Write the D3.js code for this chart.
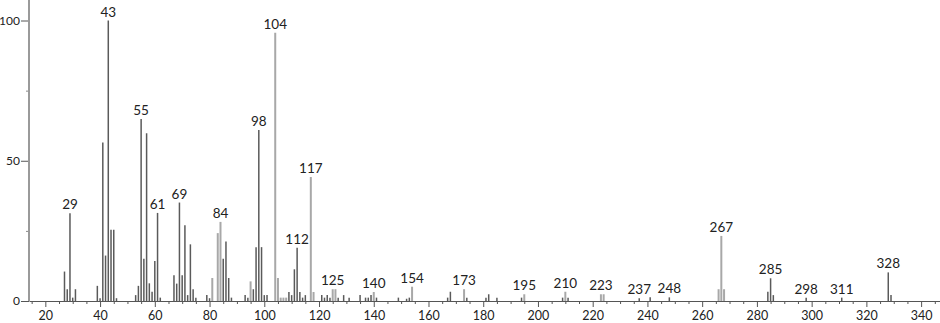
<!DOCTYPE html>
<html>
<head>
<meta charset="utf-8">
<script src="https://cdn.jsdelivr.net/npm/d3@7"></script>
<style>
  html, body { margin: 0; padding: 0; background: #fff; }
  svg { display: block; }
  text { font-family: "Century Gothic", "URW Gothic", Lato, "DejaVu Sans", sans-serif; fill: #222; }
</style>
</head>
<body>
<svg id="chart" width="940" height="323"></svg>
<script>
// m/z values of the peaks
const mz = [27,28,29,30,31,39,40,41,42,43,44,45,46,53,54,55,56,57,58,59,60,61,62,
  67,68,69,70,71,72,73,74,75,79,80,81,83,84,85,86,87,88,93,94,95,96,97,98,99,100,101,
  104,105,106,107,108,109,110,111,112,113,114,115,117,118,121,122,123,124,125,126,127,
  129,131,135,137,138,139,140,141,149,152,153,154,167,168,173,174,181,182,185,194,195,
  209,210,211,223,224,237,241,248,266,267,268,284,285,286,298,311,328,329];
// relative intensities (%)
const intensity = [10.5,4.2,31.3,1.2,4.2,5.4,1,56.5,16.2,100,25.4,25.4,1,2.1,5.4,64.9,15.1,59.8,6.3,3.3,14.3,31.4,1.2,
  9.2,6.2,35.1,9.2,27.0,2.1,20.2,4.2,1.2,2.1,1,8.2,24.2,28.2,15.1,21.2,8.2,1.2,2.1,1.2,7.0,4.2,19.2,61,19.2,2.1,2.1,
  95.6,8.2,1.2,1.2,1.2,3.2,2.1,11.3,19.0,3.2,1.2,2.1,44.2,3.2,2.1,1.2,2.1,1.2,4.2,4.2,1.2,
  2.1,1.2,2.1,1.2,1.2,2.1,3.2,1.2,1.2,0.8,1.2,5.1,1.2,3.3,4.2,1.2,1.2,2.4,1.2,1.2,2.4,
  1.2,3.3,1.2,2.4,2.4,1,1.3,1.3,4.2,23.2,4.2,3.3,8.1,2.1,1.2,1.2,10.2,2.1];
// peaks drawn in the lighter tone
const lightPeaks = [81,83,84,95,104,105,106,107,108,117,118,125,126,140,154,173,195,210,223,224,266,267,268];
// annotated peaks
const labelPeaks = [29,43,55,61,69,84,98,104,112,117,125,140,154,173,195,210,223,237,248,267,285,298,311,328];
// axis ticks
const xTicks = [20,40,60,80,100,120,140,160,180,200,220,240,260,280,300,320,340];
const yTicks = [0,50,100];
const yMinorTicks = [25,75];

const peaks = mz.map((m, i) => ({ m, v: intensity[i], light: lightPeaks.includes(m) }));

const svg = d3.select("#chart");
const x = d3.scaleLinear().domain([14.03, 346.9]).range([29, 940]);
const y = d3.scaleLinear().domain([0, 100]).range([301, 20.5]);

const dark = "#5a5a5a", light = "#a8a8a8";

// bars
svg.append("g").selectAll("line").data(peaks).join("line")
  .attr("x1", d => x(d.m)).attr("x2", d => x(d.m))
  .attr("y1", y(0)).attr("y2", d => y(d.v))
  .attr("stroke", d => d.light ? light : dark)
  .attr("stroke-width", d => d.light ? 2 : 1.5);

// x axis minor ticks
const minor = d3.range(15, 346, 5).filter(v => v % 20 !== 0);
svg.append("g").attr("transform", `translate(0,${y(0)})`)
  .call(d3.axisBottom(x).tickValues(minor).tickSize(3).tickFormat(""))
  .call(g => g.select(".domain").remove())
  .call(g => g.selectAll("line").attr("stroke", "#555"));

// x axis major
const xAxis = svg.append("g").attr("transform", `translate(0,${y(0)})`)
  .call(d3.axisBottom(x).tickValues(xTicks).tickSize(6).tickPadding(4).tickSizeOuter(0));
xAxis.select(".domain").attr("stroke", "#555");
xAxis.selectAll("line").attr("stroke", "#555");
xAxis.selectAll("text").attr("font-size", 12.5).attr("fill", "#222")
  .style("font-family", "'Century Gothic', Lato, sans-serif");

// y axis
const yAxis = svg.append("g").attr("transform", `translate(29,0)`)
  .call(d3.axisLeft(y).tickValues(yTicks).tickSize(8).tickPadding(1).tickSizeOuter(0));
yAxis.select(".domain").remove();
yAxis.selectAll("line").attr("stroke", "#555");
yAxis.selectAll("text").attr("font-size", 12).attr("fill", "#222")
  .style("font-family", "'Century Gothic', Lato, sans-serif");

svg.append("g").attr("transform", `translate(29,0)`)
  .call(d3.axisLeft(y).tickValues(yMinorTicks).tickSize(3).tickFormat(""))
  .call(g => g.select(".domain").remove())
  .call(g => g.selectAll("line").attr("stroke", "#888"));

svg.append("line")
  .attr("x1", 29).attr("x2", 29).attr("y1", 0).attr("y2", y(0))
  .attr("stroke", "#9a9a9a").attr("stroke-width", 2);

// peak labels
const labeled = peaks.filter(p => labelPeaks.includes(p.m));
svg.append("g").selectAll("text").data(labeled).join("text")
  .attr("x", d => x(d.m)).attr("y", d => y(d.v) - 4)
  .attr("text-anchor", "middle")
  .attr("font-size", 13.5)
  .text(d => d.m);
</script>
</body>
</html>
